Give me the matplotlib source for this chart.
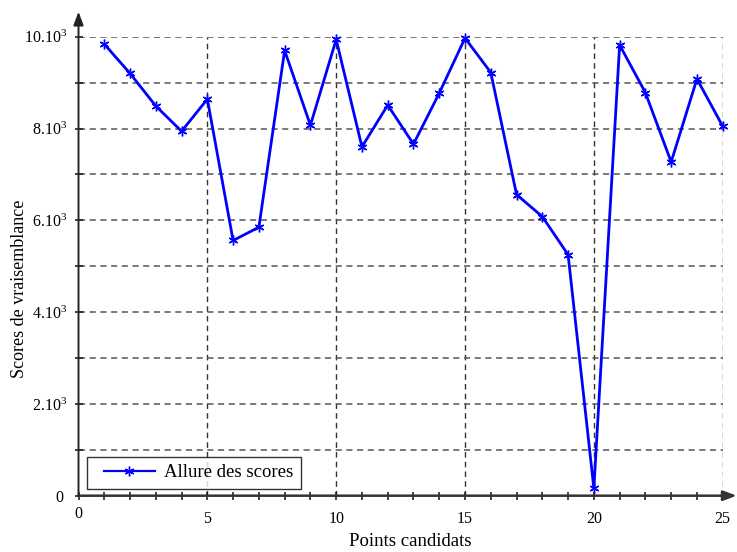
import matplotlib
matplotlib.use("Agg")
import matplotlib.pyplot as plt
import matplotlib.transforms as mtransforms
from matplotlib.ticker import MultipleLocator
from matplotlib.legend_handler import HandlerLine2D

plt.rcParams['font.family'] = ['Liberation Serif', 'DejaVu Serif']
plt.rcParams['mathtext.fontset'] = 'custom'
plt.rcParams['mathtext.rm'] = 'Liberation Serif'
plt.rcParams['mathtext.it'] = 'Liberation Serif:italic'

# Data
points = list(range(1, 26))
scores = [9840, 9200, 8490, 7940, 8640, 5560, 5850, 9700, 8070, 9940,
          7600, 8510, 7660, 8770, 9970, 9220, 6560, 6080, 5250, 160,
          9820, 8780, 7270, 9080, 8050]
series_label = "Allure des scores"
x_label = "Points candidats"
y_label = "Scores de vraisemblance"
x_ticks = [0, 5, 10, 15, 20, 25]
y_ticks = [0, 2000, 4000, 6000, 8000, 10000]
y_tick_labels = ["0", r"$\mathregular{2.10^{3}}$", r"$\mathregular{4.10^{3}}$",
                 r"$\mathregular{6.10^{3}}$", r"$\mathregular{8.10^{3}}$",
                 r"$\mathregular{10.10^{3}}$"]

fig = plt.figure(figsize=(7.37, 5.52), dpi=100)
W, H = 644.2, 459.0
ax = fig.add_axes([78.5 / 737, (552 - 495.7) / 552, W / 737, H / 552])

ax.set_xlim(0, 25)
ax.set_ylim(0, 10000)

# Grid
for gx in [5, 10, 15, 20, 25]:
    ax.axvline(gx, color='#333333', lw=1.0, ls=(0, (4, 3)), zorder=1)
for gy in range(1000, 10001, 1000):
    ax.axhline(gy, color='#555555', lw=1.1, ls=(0, (4, 3)), zorder=1)

line, = ax.plot(points, scores, color='#0000ff', lw=2, marker=(6, 2, 0), markersize=7,
                markeredgewidth=1, label=series_label, zorder=3, clip_on=False)

for s in ax.spines.values():
    s.set_visible(False)

# Axes with arrows
ax.annotate('', xy=(1 + 14.0 / W, 0), xycoords='axes fraction', xytext=(0, 0),
            arrowprops=dict(arrowstyle='-|>,head_length=0.8,head_width=0.3',
                            color='#333333', lw=1.8, shrinkA=0, shrinkB=0),
            annotation_clip=False, zorder=4)
ax.annotate('', xy=(0, 1 + 25.0 / H), xycoords='axes fraction', xytext=(0, 0),
            arrowprops=dict(arrowstyle='-|>,head_length=0.8,head_width=0.3',
                            color='#222222', lw=1.4, shrinkA=0, shrinkB=0),
            annotation_clip=False, zorder=4)

ax.set_xticks(x_ticks)
ax.set_xticklabels([str(t) for t in x_ticks])
ax.xaxis.set_minor_locator(MultipleLocator(1))
ax.set_yticks(y_ticks)
ax.set_yticklabels(y_tick_labels)
ax.yaxis.set_minor_locator(MultipleLocator(1000))

ax.tick_params(axis='x', which='both', direction='inout', length=6, width=1.2, color='#222222',
               labelsize=11.5, pad=8)
ax.tick_params(axis='y', which='both', direction='inout', length=6, width=1.2, color='#222222',
               labelsize=11.5, pad=5)

# Shift "0" tick labels like reference
lbl0 = ax.get_xticklabels()[0]
lbl0.set_transform(lbl0.get_transform() + mtransforms.ScaledTranslation(0, 5 / 100, fig.dpi_scale_trans))
ylbl0 = ax.get_yticklabels()[0]
ylbl0.set_transform(ylbl0.get_transform() + mtransforms.ScaledTranslation(-4 / 100, 0, fig.dpi_scale_trans))

ax.set_xlabel(x_label, fontsize=13.5, va='center')
ax.set_ylabel(y_label, fontsize=13, va='center')
ax.xaxis.set_label_coords((410 - 78.5) / W, (495.7 - 542) / H)
ax.yaxis.set_label_coords((20 - 78.5) / W, (495.7 - 289) / H)

leg = ax.legend(loc='lower left', bbox_to_anchor=(8.5 / W, 7.0 / H), fontsize=13.5,
                frameon=True, fancybox=False, edgecolor='black', borderaxespad=0,
                handlelength=3.2, handletextpad=0.5, borderpad=0.4,
                handler_map={line: HandlerLine2D(xpad=0.5)})
leg.get_frame().set_linewidth(1.0)
for h in leg.legend_handles:
    h.set_linewidth(1.6)

fig.savefig('out.png', dpi=100)
